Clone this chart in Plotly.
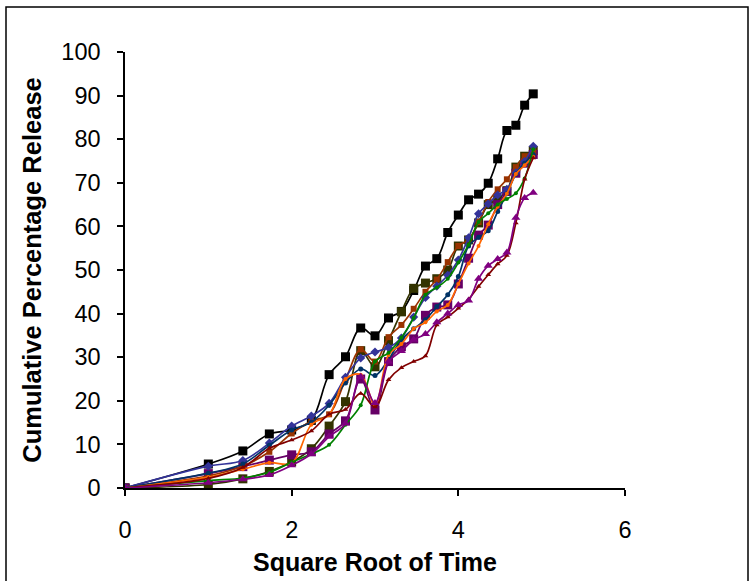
import math
import plotly.graph_objects as go

# x = square root of time (t = 0..24)
time_points = list(range(25))
sqrt_time = [math.sqrt(t) for t in time_points]

black_sq = [0, 5.5, 8.5, 12.4, 13.3, 15.5, 26.0, 30.1, 36.7, 34.9, 39.0, 40.5, 45.3, 50.9, 52.6, 58.6,
            62.6, 66.1, 67.4, 69.9, 75.5, 82.0, 83.2, 87.8, 90.4]
olive_sq = [0, 0.8, 2.1, 3.8, 6.0, 9.0, 14.2, 19.8, 31.5, 27.8, 33.8, 40.4, 45.8, 47.0, 48.0, 50.0,
            55.5, 56.9, 60.8, 65.0, 66.2, 68.2, 73.6, 76.1, 77.4]
purple_sq = [0, 3.3, 4.9, 6.4, 7.6, 8.3, 12.4, 15.4, 25.0, 17.9, 29.0, 32.4, 34.2, 39.6, 41.5, 42.0,
             46.8, 52.7, 58.0, 60.3, 65.0, 68.0, 72.2, 74.5, 76.5]
brown_sq = [0, 2.8, 5.0, 8.3, 12.5, 15.3, 16.9, 24.8, 31.8, 29.0, 34.6, 37.4, 41.1, 45.0, 47.8, 51.8,
            55.5, 57.0, 61.0, 65.6, 68.5, 70.8, 73.6, 76.1, 77.2]
blue_dia = [0, 5.0, 6.3, 10.3, 14.2, 16.5, 19.4, 25.4, 29.8, 31.2, 32.2, 34.4, 39.2, 43.7, 46.3, 48.8,
            52.3, 57.4, 62.9, 65.2, 67.2, 68.5, 72.3, 74.9, 78.4]
navy_dot = [0, 3.4, 5.5, 9.8, 13.3, 15.1, 19.0, 24.1, 27.3, 25.8, 29.5, 34.0, 36.5, 38.6, 41.6, 44.3,
            48.5, 55.5, 57.5, 59.0, 63.4, 67.5, 72.0, 74.5, 76.5]
orange_dot = [0, 2.5, 4.3, 5.8, 5.7, 14.5, 16.8, 25.0, 26.0, 19.0, 30.5, 33.0, 36.5, 38.0, 40.5, 42.0,
              46.8, 51.5, 55.5, 60.5, 64.5, 67.5, 72.0, 74.0, 76.0]
green_dot = [0, 1.7, 2.3, 3.6, 5.9, 7.8, 9.9, 14.5, 19.0, 29.0, 31.0, 34.5, 39.0, 44.3, 46.0, 48.0,
             51.7, 55.8, 61.0, 63.0, 65.0, 66.3, 67.6, 71.0, 77.7]
darkred_tri = [0, 2.2, 4.7, 9.1, 11.0, 13.1, 16.9, 18.0, 21.7, 18.6, 24.8, 27.6, 29.0, 30.3, 37.4, 39.2,
               41.2, 43.3, 46.2, 48.9, 51.4, 53.3, 60.8, 70.8, 75.7]
violet_tri = [0, 1.2, 2.0, 3.0, 5.2, 7.8, 11.8, 14.8, 25.5, 19.5, 29.0, 31.4, 34.0, 35.3, 38.0, 40.0,
              42.0, 43.0, 48.0, 51.0, 52.5, 54.0, 62.0, 66.5, 67.7]

x_ticks = [0, 2, 4, 6]
y_ticks = [0, 10, 20, 30, 40, 50, 60, 70, 80, 90, 100]

series = [
    ("Black", black_sq, "#000000", "square", 9),
    ("Olive", olive_sq, "#333300", "square", 9),
    ("Purple", purple_sq, "#660066", "square", 9),
    ("Brown", brown_sq, "#993300", "square", 6),
    ("Blue", blue_dia, "#333399", "diamond", 7),
    ("Navy", navy_dot, "#003366", "circle", 5),
    ("Orange", orange_dot, "#FF6600", "circle", 4),
    ("Green", green_dot, "#008000", "circle", 4),
    ("Dark red", darkred_tri, "#800000", "triangle-up", 5),
    ("Violet", violet_tri, "#800080", "triangle-up", 8),
]

fig = go.Figure()
for name, ys, col, sym, sz in series:
    fig.add_trace(go.Scatter(
        x=sqrt_time, y=ys, name=name, mode="lines+markers",
        line=dict(color=col, width=1.7, shape="spline", smoothing=1.0),
        marker=dict(color=col, symbol=sym, size=sz, line=dict(width=0)),
    ))

font_family = "Liberation Sans, Arial, sans-serif"
fig.update_layout(
    width=750, height=581,
    margin=dict(l=125, r=125, t=52, b=93, autoexpand=False),
    paper_bgcolor="white", plot_bgcolor="white",
    showlegend=False,
    font=dict(family=font_family, color="black"),
    xaxis=dict(
        range=[0, 6], tickvals=x_ticks, ticks="outside", ticklen=6, tickwidth=1.5,
        tickcolor="black", showline=True, linecolor="black", linewidth=1.5,
        showgrid=False, zeroline=False, tickfont=dict(size=23.5), ticklabelstandoff=14,
        automargin=False,
        title=dict(text="<b>Square Root of Time</b>", font=dict(size=25), standoff=12),
    ),
    yaxis=dict(
        range=[0, 100], tickvals=y_ticks, ticks="outside", ticklen=6, tickwidth=1.5,
        tickcolor="black", showline=True, linecolor="black", linewidth=1.5,
        showgrid=False, zeroline=False, tickfont=dict(size=23.5), ticklabelstandoff=12,
        automargin=False,
        title=dict(text="<b>Cumulative Percentage Release</b>", font=dict(size=25.5), standoff=12),
    ),
    shapes=[dict(type="rect", xref="paper", yref="paper",
                 x0=(6 - 125) / 500, x1=(748 - 125) / 500,
                 y0=(488 - 590) / 436, y1=(488 - 7) / 436,
                 line=dict(color="black", width=1.5), fillcolor="rgba(0,0,0,0)", layer="below")],
)

fig.write_html("out.html", config={"displayModeBar": False},
               post_script="document.body.style.margin='0';document.body.style.overflow='hidden';")
